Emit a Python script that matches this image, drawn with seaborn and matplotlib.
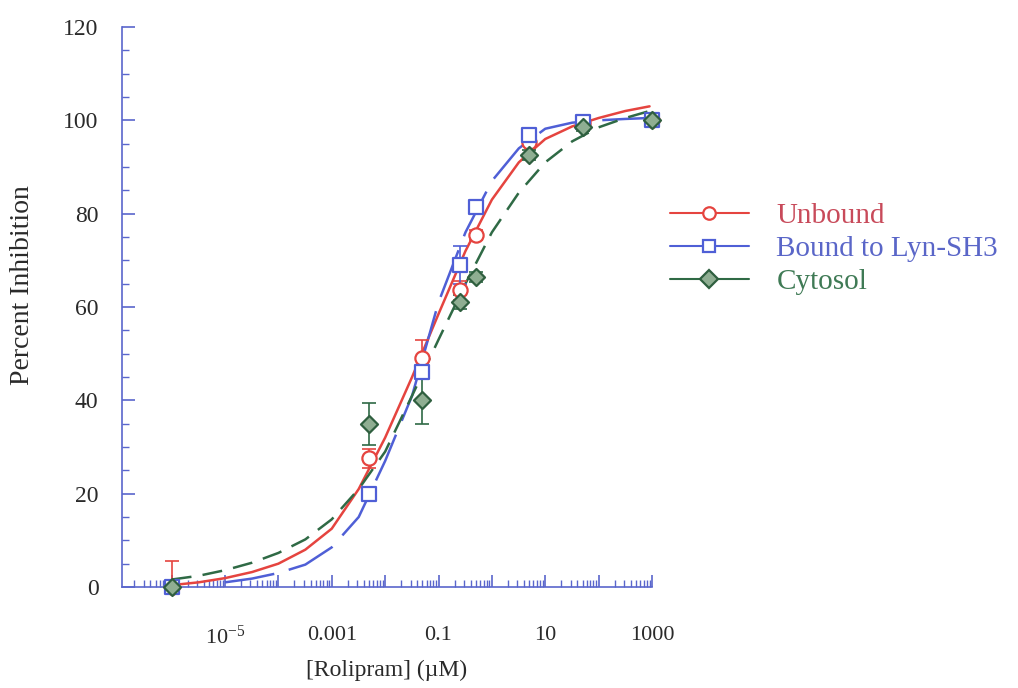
import matplotlib
matplotlib.use("Agg")
import matplotlib.pyplot as plt
from matplotlib.lines import Line2D
from matplotlib.ticker import FixedLocator, LogLocator, NullFormatter, MultipleLocator
import seaborn as sns
import pandas as pd

# measured points (uM, % inhibition, error)
conc = [1e-6, 0.005, 0.05, 0.25, 0.5, 5, 50, 1000]
unbound = [0, 27.6, 49, 63.6, 75.4, 95.4, 99.4, 100]
unbound_err = [5.5, 2, 4, 2, 1, 1, 0.8, 0.5]
bound = [0, 20, 46, 69, 81.5, 96.8, 99.6, 100]
bound_err = [0.5, 1, 1.5, 4, 1, 1, 0.5, 0.5]
cytosol = [0, 35, 40, 61, 66.4, 92.6, 98.6, 100]
cytosol_err = [0.5, 4.5, 5, 1.5, 1, 1, 0.8, 0.5]

# fitted curves
curve_x = [1e-6, 3.2e-6, 1e-5, 3.2e-5, 1e-4, 3.2e-4, 1e-3, 3.2e-3, 0.01, 0.032,
           0.1, 0.32, 1, 3.2, 10, 32, 100, 316, 900]
unbound_fit = [0.4, 1.0, 1.9, 3.2, 5.0, 8.0, 12.5, 21, 32, 45,
               58.5, 72, 83, 91, 96, 98.7, 100.5, 102, 103]
cytosol_fit = [1.6, 2.4, 3.6, 5.2, 7.3, 10.2, 14.5, 21, 29, 41,
               53, 65, 76, 84.5, 91, 95.5, 98.5, 100.5, 102]
bound_x = curve_x[2:]
bound_fit = [1.0, 1.8, 3.0, 4.8, 8.5, 15, 27, 41,
             61, 76, 87, 94, 98.2, 99.5, 100, 100.3, 100.5]

xticks_lab = {1e-5: r"$\mathrm{10^{-5}}$", 1e-3: "0.001", 0.1: "0.1", 10: "10", 1000: "1000"}

red = "#e5443f"
blue = "#4f5fd6"
green = "#2f6a45"
axcol = "#5a66cc"

sns.set_style("white")
plt.rcParams["font.family"] = ["Liberation Serif", "DejaVu Serif"]
plt.rcParams["mathtext.fontset"] = "custom"
plt.rcParams["mathtext.rm"] = "Liberation Serif"

fig = plt.figure(figsize=(10.18, 6.88), dpi=100)
ax = fig.add_axes([122 / 1018, 1 - 587 / 688, 530 / 1018, 560 / 688])
ax.set_xscale("log")

sns.lineplot(x=curve_x, y=unbound_fit, ax=ax, color=red, lw=1.8, legend=False, sort=False)
sns.lineplot(x=bound_x, y=bound_fit, ax=ax, color=blue, lw=1.8, legend=False, sort=False,
             linestyle=(0, (20, 6)))
sns.lineplot(x=curve_x, y=cytosol_fit, ax=ax, color=green, lw=1.8, legend=False, sort=False,
             linestyle=(0, (8, 4.5)))

series = [
    ("Unbound", unbound, unbound_err, red, "o", "white", red, "#c84a5a"),
    ("Bound to Lyn-SH3", bound, bound_err, blue, "s", "white", blue, "#5a66c8"),
    ("Cytosol", cytosol, cytosol_err, green, "D", "#8fae92", "#2f5f3f", "#3f7a55"),
]
handles = []
for name, vals, err, col, mk, fc, ec, tc in series:
    ax.errorbar(conc, vals, yerr=err, fmt="none", ecolor=col, elinewidth=1.2,
                capsize=5, capthick=1.2, zorder=3)
    df = pd.DataFrame({"x": conc, "y": vals})
    sns.scatterplot(data=df, x="x", y="y", ax=ax, marker=mk, s=105 if mk != "D" else 75,
                    facecolor=fc, edgecolor=ec, linewidth=1.6, zorder=4, clip_on=False)
    handles.append(Line2D([], [], color=col, lw=1.5, marker=mk, markersize=9,
                          markerfacecolor=fc if mk == "D" else "white",
                          markeredgecolor=ec, markeredgewidth=1.6, label=name))

ax.set_xlim(10 ** -6.93, 1000)
ax.set_ylim(0, 120)

for s in ["top", "right"]:
    ax.spines[s].set_visible(False)
for s in ["left", "bottom"]:
    ax.spines[s].set_color(axcol)
    ax.spines[s].set_linewidth(1.2)

ax.yaxis.set_major_locator(MultipleLocator(20))
ax.yaxis.set_minor_locator(MultipleLocator(5))
ax.xaxis.set_major_locator(FixedLocator([10.0 ** k for k in range(-6, 4)]))
ax.xaxis.set_minor_locator(LogLocator(base=10, subs=range(2, 10), numticks=20))
ax.xaxis.set_minor_formatter(NullFormatter())
ax.set_xticklabels([xticks_lab.get(10.0 ** k, "") for k in range(-6, 4)])

ax.tick_params(which="both", direction="in", bottom=True, left=True,
               color=axcol, labelcolor="#2a2a2a", labelsize=16)
ax.tick_params(which="major", length=9, width=1.2)
ax.tick_params(which="minor", length=5, width=1.0)
ax.tick_params(axis="x", pad=28)
ax.tick_params(axis="y", which="major", labelsize=17, pad=17)

ax.set_xlabel("[Rolipram] (\u00b5M)", fontsize=17, color="#2a2a2a", labelpad=8)
ax.set_ylabel("Percent Inhibition", fontsize=20, color="#2a2a2a")
ax.yaxis.set_label_coords(-0.165, 0.54)

leg = fig.legend(handles=handles, loc="upper left", bbox_to_anchor=(670 / 1018, 1 - 203 / 688),
                 frameon=False, fontsize=21, handlelength=2.7, handletextpad=0.95,
                 labelspacing=0.22, borderpad=0, borderaxespad=0)
for txt, (_, _, _, _, _, _, _, tc) in zip(leg.get_texts(), series):
    txt.set_color(tc)

fig.savefig("out.png", dpi=100)
